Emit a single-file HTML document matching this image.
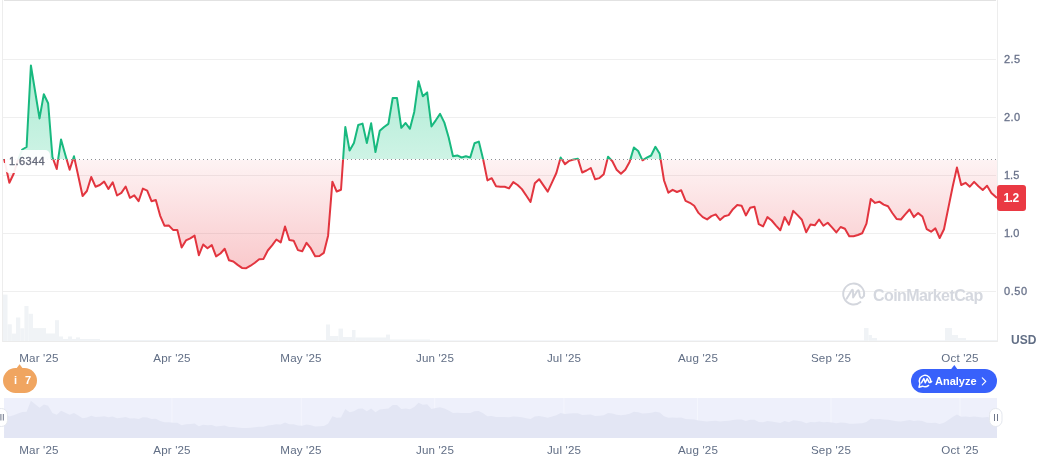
<!DOCTYPE html>
<html><head><meta charset="utf-8"><style>
html,body{margin:0;padding:0;background:#fff;}
body{width:1044px;height:474px;position:relative;overflow:hidden;font-family:"Liberation Sans",sans-serif;}
svg{position:absolute;left:0;top:0;}
div{will-change:transform;}
.xl{position:absolute;width:60px;text-align:center;font-size:11.6px;letter-spacing:0.15px;line-height:14px;color:#616e85;white-space:nowrap;}
.yl{position:absolute;left:1003.6px;font-size:11px;letter-spacing:0.5px;line-height:16px;color:#69728a;-webkit-text-stroke:0.3px #69728a;}
.usd{position:absolute;left:1010.5px;top:331.5px;font-size:12px;line-height:16px;font-weight:bold;color:#616e85;}
.tag{position:absolute;left:997px;top:185px;width:29px;height:26px;border-radius:3px;background:#ea3943;color:#fff;font-weight:bold;font-size:12px;line-height:26px;text-align:center;letter-spacing:-0.5px;text-indent:-1px;}
.base{position:absolute;left:4px;top:150px;width:46px;height:22.5px;border-radius:5px;background:rgba(255,255,255,0.92);}
.baset{position:absolute;left:9.4px;top:153px;font-size:11px;letter-spacing:0.4px;line-height:16px;color:#666b7b;-webkit-text-stroke:0.35px #666b7b;}
.wm{position:absolute;left:872.8px;top:287px;font-size:16px;line-height:18px;font-weight:bold;color:#d5d8df;letter-spacing:-0.6px;}
.an{position:absolute;left:911px;top:369px;width:86px;height:24px;border-radius:12px;background:#3861fb;}
.ant{position:absolute;left:935px;top:369px;font-size:11px;line-height:24px;font-weight:bold;color:#fff;}
.bd{position:absolute;left:3px;top:368px;width:34px;height:25px;border-radius:12.5px;background:#f0a560;}
.bdt{position:absolute;top:368px;font-size:11px;line-height:25px;font-weight:bold;color:#fff;}
</style></head><body>
<svg width="1044" height="474" viewBox="0 0 1044 474">
<defs>
<linearGradient id="gg" gradientUnits="userSpaceOnUse" x1="0" y1="0" x2="0" y2="159.5">
<stop offset="0" stop-color="#16c784" stop-opacity="0.46"/><stop offset="1" stop-color="#16c784" stop-opacity="0.21"/></linearGradient>
<linearGradient id="rg" gradientUnits="userSpaceOnUse" x1="0" y1="159.5" x2="0" y2="342">
<stop offset="0" stop-color="#ea3943" stop-opacity="0.06"/><stop offset="1" stop-color="#ea3943" stop-opacity="0.42"/></linearGradient>
<clipPath id="up"><rect x="0" y="0" width="1000" height="159.5"/></clipPath>
<clipPath id="dn"><rect x="0" y="159.5" width="1000" height="200"/></clipPath>
<clipPath id="upf"><rect x="0" y="0" width="1000" height="159"/></clipPath>
<clipPath id="dnf"><rect x="0" y="160" width="1000" height="200"/></clipPath>
</defs>
<rect x="2" y="0" width="1" height="342" fill="#ededed"/><rect x="997" y="0" width="1" height="342" fill="#ededed"/>
<rect x="3" y="341" width="994" height="1" fill="#ebebeb"/>
<rect x="4" y="0" width="992" height="1" fill="#e2e2e2"/>
<rect x="3" y="59" width="993" height="1" fill="#efefef"/><rect x="3" y="117" width="993" height="1" fill="#efefef"/><rect x="3" y="175" width="993" height="1" fill="#efefef"/><rect x="3" y="233" width="993" height="1" fill="#efefef"/><rect x="3" y="291" width="993" height="1" fill="#efefef"/>
<g fill="#f0f3f6"><rect x="3" y="294.6" width="4.5" height="46.39999999999998"/><rect x="7.5" y="324.3" width="4.300000000000001" height="16.69999999999999"/><rect x="11.8" y="333.6" width="4.199999999999999" height="7.399999999999977"/><rect x="16" y="317.5" width="4.300000000000001" height="23.5"/><rect x="20.3" y="328.3" width="4.099999999999998" height="12.699999999999989"/><rect x="24.4" y="306" width="4.100000000000001" height="35"/><rect x="28.5" y="313.8" width="4.5" height="27.19999999999999"/><rect x="33" y="328.1" width="13" height="12.899999999999977"/><rect x="46" y="333.5" width="9" height="7.5"/><rect x="55" y="320.2" width="4" height="20.80000000000001"/><rect x="59" y="336.5" width="4" height="4.5"/><rect x="63" y="339" width="5" height="2"/><rect x="68" y="336.5" width="4" height="4.5"/><rect x="72" y="339" width="4" height="2"/><rect x="76" y="337.4" width="4" height="3.6000000000000227"/><rect x="80" y="339" width="20" height="2"/><rect x="100" y="340" width="226" height="1"/><rect x="326" y="324.5" width="4" height="16.5"/><rect x="330" y="336" width="8.5" height="5"/><rect x="338.5" y="328.6" width="4.5" height="12.399999999999977"/><rect x="343" y="337" width="9" height="4"/><rect x="352" y="330" width="3.5" height="11"/><rect x="355.5" y="337.5" width="30.5" height="3.5"/><rect x="386" y="334.6" width="4" height="6.399999999999977"/><rect x="390" y="339.5" width="40" height="1.5"/><rect x="430" y="340.3" width="434" height="0.6999999999999886"/><rect x="864" y="328" width="4.5" height="13"/><rect x="868.5" y="335" width="3.5" height="6"/><rect x="872" y="338" width="5" height="3"/><rect x="877" y="340.3" width="68" height="0.6999999999999886"/><rect x="945" y="328" width="7" height="13"/><rect x="952" y="335" width="6" height="6"/><rect x="958" y="338" width="8" height="3"/><rect x="966" y="340" width="31" height="1"/></g>
<g fill="none" stroke="#d3d6dd" stroke-width="1.9" stroke-linecap="round" stroke-linejoin="round">
<path d="M864.04,295.8 A10.5,10.5 0 1 0 860.45,302.04"/>
<path d="M846.6,298.8 L851.8,290.2 Q852.9,289 853,291 L853.1,297.6 L857.6,290.6 Q858.8,289.4 859,291.5 L859.8,296 Q860.5,298.5 862.5,297.6 Q864.5,296.3 864.2,293.5"/>
</g>
<path d="M4.3,159.7 L9.37,182.8 L13.67,173.7 L17.98,160 L22.29,149.5 L26.6,147 L30.9,65.5 L35.21,92 L39.52,118.4 L43.82,94.2 L48.13,103.2 L52.44,157 L56.74,169 L61.05,139.4 L65.36,155 L69.67,169.8 L73.97,156.3 L78.28,176 L82.59,196 L86.89,191 L91.2,177 L95.51,186.7 L99.81,185 L104.12,181.6 L108.43,188.9 L112.74,182.3 L117.04,195.5 L121.35,192.9 L125.66,186.5 L129.96,197.8 L134.27,195.3 L138.58,201.2 L142.88,188.6 L147.19,190.6 L151.5,201.2 L155.81,200 L160.11,215.6 L164.42,225.7 L168.73,225.4 L173.03,229.9 L177.34,229.9 L181.65,247.5 L185.95,240.4 L190.26,238.3 L194.57,235.6 L198.88,255.2 L203.18,244.5 L207.49,248.3 L211.8,245.1 L216.1,256.4 L220.41,253.5 L224.72,248.8 L229.02,260.3 L233.33,261.5 L237.64,264.9 L241.95,267.9 L246.25,268.2 L250.56,265.7 L254.87,262.7 L259.17,259.3 L263.48,258.9 L267.79,250.5 L272.09,245.4 L276.4,239.5 L280.71,242.4 L285.02,226.5 L289.32,240 L293.63,240.7 L297.94,250.1 L302.24,251.2 L306.55,242.8 L310.86,248.4 L315.16,256.3 L319.47,256 L323.78,252.9 L328.09,235.7 L332.39,181.7 L336.7,191.5 L341.01,189.8 L345.31,127 L349.62,150.6 L353.93,143 L358.23,125 L362.54,123.6 L366.85,143 L371.16,123.3 L375.46,152 L379.77,130.8 L384.08,127 L388.38,123.9 L392.69,98 L397.0,98 L401.3,127.8 L405.61,123 L409.92,128.8 L414.23,112 L418.53,81.2 L422.84,96.3 L427.15,92.4 L431.45,126.4 L435.76,120.3 L440.07,113.9 L444.37,122.6 L448.68,137.5 L452.99,156.3 L457.3,155.4 L461.6,157.5 L465.91,156.3 L470.22,157.5 L474.52,143.3 L478.83,141.6 L483.14,159.2 L487.44,180.4 L491.75,178.2 L496.06,186.2 L500.37,186.7 L504.67,186.7 L508.98,188.4 L513.29,182.1 L517.59,185 L521.9,189.1 L526.21,195.5 L530.51,202 L534.82,183.2 L539.13,179.2 L543.43,185.3 L547.74,191.6 L552.05,182.3 L556.36,173 L560.66,157.5 L564.97,164.1 L569.28,160.7 L573.58,159.5 L577.89,158.7 L582.2,172.5 L586.5,170.5 L590.81,168 L595.12,179.3 L599.43,178.1 L603.73,174.2 L608.04,156.7 L612.35,161.2 L616.65,169.7 L620.96,173.8 L625.27,169.8 L629.58,162 L633.88,147.5 L638.19,151 L642.5,160.3 L646.8,157.7 L651.11,155.5 L655.42,146.8 L659.72,153.8 L664.03,180.5 L668.34,192.7 L672.64,189.8 L676.95,192 L681.26,190.3 L685.57,200.8 L689.87,202.8 L694.18,205.8 L698.49,212.9 L702.79,217.1 L707.1,219.4 L711.41,216.1 L715.72,214.4 L720.02,220 L724.33,216.3 L728.64,215.1 L732.94,209.2 L737.25,205 L741.56,205.7 L745.86,215.4 L750.17,207.8 L754.48,206.7 L758.78,224.2 L763.09,226.4 L767.4,217.1 L771.71,220.5 L776.01,225.6 L780.32,230.3 L784.63,217.1 L788.93,224.7 L793.24,210.9 L797.55,215.1 L801.86,219.7 L806.16,232.3 L810.47,224.5 L814.78,225.3 L819.08,219.5 L823.39,225.7 L827.7,222.7 L832.0,227.4 L836.31,232.4 L840.62,227 L844.93,228.7 L849.23,236.3 L853.54,236.3 L857.85,235 L862.15,233.3 L866.46,223.7 L870.77,199 L875.07,202.9 L879.38,201.7 L883.69,204.6 L888.0,206.3 L892.3,213 L896.61,218.9 L900.92,219.5 L905.22,214.3 L909.53,209.5 L913.84,217.1 L918.14,213.1 L922.45,216.5 L926.76,229.2 L931.07,231.7 L935.37,228.4 L939.68,238 L943.99,229.2 L948.29,208.1 L952.6,187 L956.91,167.6 L961.21,185 L965.52,182.8 L969.83,186.7 L974.13,181.9 L978.44,186.2 L982.75,190 L987.06,185.7 L991.36,192.9 L997,198 L997,159.5 L4.3,159.5 Z" fill="url(#gg)" clip-path="url(#upf)"/>
<path d="M4.3,159.7 L9.37,182.8 L13.67,173.7 L17.98,160 L22.29,149.5 L26.6,147 L30.9,65.5 L35.21,92 L39.52,118.4 L43.82,94.2 L48.13,103.2 L52.44,157 L56.74,169 L61.05,139.4 L65.36,155 L69.67,169.8 L73.97,156.3 L78.28,176 L82.59,196 L86.89,191 L91.2,177 L95.51,186.7 L99.81,185 L104.12,181.6 L108.43,188.9 L112.74,182.3 L117.04,195.5 L121.35,192.9 L125.66,186.5 L129.96,197.8 L134.27,195.3 L138.58,201.2 L142.88,188.6 L147.19,190.6 L151.5,201.2 L155.81,200 L160.11,215.6 L164.42,225.7 L168.73,225.4 L173.03,229.9 L177.34,229.9 L181.65,247.5 L185.95,240.4 L190.26,238.3 L194.57,235.6 L198.88,255.2 L203.18,244.5 L207.49,248.3 L211.8,245.1 L216.1,256.4 L220.41,253.5 L224.72,248.8 L229.02,260.3 L233.33,261.5 L237.64,264.9 L241.95,267.9 L246.25,268.2 L250.56,265.7 L254.87,262.7 L259.17,259.3 L263.48,258.9 L267.79,250.5 L272.09,245.4 L276.4,239.5 L280.71,242.4 L285.02,226.5 L289.32,240 L293.63,240.7 L297.94,250.1 L302.24,251.2 L306.55,242.8 L310.86,248.4 L315.16,256.3 L319.47,256 L323.78,252.9 L328.09,235.7 L332.39,181.7 L336.7,191.5 L341.01,189.8 L345.31,127 L349.62,150.6 L353.93,143 L358.23,125 L362.54,123.6 L366.85,143 L371.16,123.3 L375.46,152 L379.77,130.8 L384.08,127 L388.38,123.9 L392.69,98 L397.0,98 L401.3,127.8 L405.61,123 L409.92,128.8 L414.23,112 L418.53,81.2 L422.84,96.3 L427.15,92.4 L431.45,126.4 L435.76,120.3 L440.07,113.9 L444.37,122.6 L448.68,137.5 L452.99,156.3 L457.3,155.4 L461.6,157.5 L465.91,156.3 L470.22,157.5 L474.52,143.3 L478.83,141.6 L483.14,159.2 L487.44,180.4 L491.75,178.2 L496.06,186.2 L500.37,186.7 L504.67,186.7 L508.98,188.4 L513.29,182.1 L517.59,185 L521.9,189.1 L526.21,195.5 L530.51,202 L534.82,183.2 L539.13,179.2 L543.43,185.3 L547.74,191.6 L552.05,182.3 L556.36,173 L560.66,157.5 L564.97,164.1 L569.28,160.7 L573.58,159.5 L577.89,158.7 L582.2,172.5 L586.5,170.5 L590.81,168 L595.12,179.3 L599.43,178.1 L603.73,174.2 L608.04,156.7 L612.35,161.2 L616.65,169.7 L620.96,173.8 L625.27,169.8 L629.58,162 L633.88,147.5 L638.19,151 L642.5,160.3 L646.8,157.7 L651.11,155.5 L655.42,146.8 L659.72,153.8 L664.03,180.5 L668.34,192.7 L672.64,189.8 L676.95,192 L681.26,190.3 L685.57,200.8 L689.87,202.8 L694.18,205.8 L698.49,212.9 L702.79,217.1 L707.1,219.4 L711.41,216.1 L715.72,214.4 L720.02,220 L724.33,216.3 L728.64,215.1 L732.94,209.2 L737.25,205 L741.56,205.7 L745.86,215.4 L750.17,207.8 L754.48,206.7 L758.78,224.2 L763.09,226.4 L767.4,217.1 L771.71,220.5 L776.01,225.6 L780.32,230.3 L784.63,217.1 L788.93,224.7 L793.24,210.9 L797.55,215.1 L801.86,219.7 L806.16,232.3 L810.47,224.5 L814.78,225.3 L819.08,219.5 L823.39,225.7 L827.7,222.7 L832.0,227.4 L836.31,232.4 L840.62,227 L844.93,228.7 L849.23,236.3 L853.54,236.3 L857.85,235 L862.15,233.3 L866.46,223.7 L870.77,199 L875.07,202.9 L879.38,201.7 L883.69,204.6 L888.0,206.3 L892.3,213 L896.61,218.9 L900.92,219.5 L905.22,214.3 L909.53,209.5 L913.84,217.1 L918.14,213.1 L922.45,216.5 L926.76,229.2 L931.07,231.7 L935.37,228.4 L939.68,238 L943.99,229.2 L948.29,208.1 L952.6,187 L956.91,167.6 L961.21,185 L965.52,182.8 L969.83,186.7 L974.13,181.9 L978.44,186.2 L982.75,190 L987.06,185.7 L991.36,192.9 L997,198 L997,159.5 L4.3,159.5 Z" fill="url(#rg)" clip-path="url(#dnf)"/>
<line x1="3" y1="159.5" x2="997" y2="159.5" stroke="#8e8e93" stroke-width="1" stroke-dasharray="1 3" shape-rendering="crispEdges"/>
<path d="M4.3,159.7 L9.37,182.8 L13.67,173.7 L17.98,160 L22.29,149.5 L26.6,147 L30.9,65.5 L35.21,92 L39.52,118.4 L43.82,94.2 L48.13,103.2 L52.44,157 L56.74,169 L61.05,139.4 L65.36,155 L69.67,169.8 L73.97,156.3 L78.28,176 L82.59,196 L86.89,191 L91.2,177 L95.51,186.7 L99.81,185 L104.12,181.6 L108.43,188.9 L112.74,182.3 L117.04,195.5 L121.35,192.9 L125.66,186.5 L129.96,197.8 L134.27,195.3 L138.58,201.2 L142.88,188.6 L147.19,190.6 L151.5,201.2 L155.81,200 L160.11,215.6 L164.42,225.7 L168.73,225.4 L173.03,229.9 L177.34,229.9 L181.65,247.5 L185.95,240.4 L190.26,238.3 L194.57,235.6 L198.88,255.2 L203.18,244.5 L207.49,248.3 L211.8,245.1 L216.1,256.4 L220.41,253.5 L224.72,248.8 L229.02,260.3 L233.33,261.5 L237.64,264.9 L241.95,267.9 L246.25,268.2 L250.56,265.7 L254.87,262.7 L259.17,259.3 L263.48,258.9 L267.79,250.5 L272.09,245.4 L276.4,239.5 L280.71,242.4 L285.02,226.5 L289.32,240 L293.63,240.7 L297.94,250.1 L302.24,251.2 L306.55,242.8 L310.86,248.4 L315.16,256.3 L319.47,256 L323.78,252.9 L328.09,235.7 L332.39,181.7 L336.7,191.5 L341.01,189.8 L345.31,127 L349.62,150.6 L353.93,143 L358.23,125 L362.54,123.6 L366.85,143 L371.16,123.3 L375.46,152 L379.77,130.8 L384.08,127 L388.38,123.9 L392.69,98 L397.0,98 L401.3,127.8 L405.61,123 L409.92,128.8 L414.23,112 L418.53,81.2 L422.84,96.3 L427.15,92.4 L431.45,126.4 L435.76,120.3 L440.07,113.9 L444.37,122.6 L448.68,137.5 L452.99,156.3 L457.3,155.4 L461.6,157.5 L465.91,156.3 L470.22,157.5 L474.52,143.3 L478.83,141.6 L483.14,159.2 L487.44,180.4 L491.75,178.2 L496.06,186.2 L500.37,186.7 L504.67,186.7 L508.98,188.4 L513.29,182.1 L517.59,185 L521.9,189.1 L526.21,195.5 L530.51,202 L534.82,183.2 L539.13,179.2 L543.43,185.3 L547.74,191.6 L552.05,182.3 L556.36,173 L560.66,157.5 L564.97,164.1 L569.28,160.7 L573.58,159.5 L577.89,158.7 L582.2,172.5 L586.5,170.5 L590.81,168 L595.12,179.3 L599.43,178.1 L603.73,174.2 L608.04,156.7 L612.35,161.2 L616.65,169.7 L620.96,173.8 L625.27,169.8 L629.58,162 L633.88,147.5 L638.19,151 L642.5,160.3 L646.8,157.7 L651.11,155.5 L655.42,146.8 L659.72,153.8 L664.03,180.5 L668.34,192.7 L672.64,189.8 L676.95,192 L681.26,190.3 L685.57,200.8 L689.87,202.8 L694.18,205.8 L698.49,212.9 L702.79,217.1 L707.1,219.4 L711.41,216.1 L715.72,214.4 L720.02,220 L724.33,216.3 L728.64,215.1 L732.94,209.2 L737.25,205 L741.56,205.7 L745.86,215.4 L750.17,207.8 L754.48,206.7 L758.78,224.2 L763.09,226.4 L767.4,217.1 L771.71,220.5 L776.01,225.6 L780.32,230.3 L784.63,217.1 L788.93,224.7 L793.24,210.9 L797.55,215.1 L801.86,219.7 L806.16,232.3 L810.47,224.5 L814.78,225.3 L819.08,219.5 L823.39,225.7 L827.7,222.7 L832.0,227.4 L836.31,232.4 L840.62,227 L844.93,228.7 L849.23,236.3 L853.54,236.3 L857.85,235 L862.15,233.3 L866.46,223.7 L870.77,199 L875.07,202.9 L879.38,201.7 L883.69,204.6 L888.0,206.3 L892.3,213 L896.61,218.9 L900.92,219.5 L905.22,214.3 L909.53,209.5 L913.84,217.1 L918.14,213.1 L922.45,216.5 L926.76,229.2 L931.07,231.7 L935.37,228.4 L939.68,238 L943.99,229.2 L948.29,208.1 L952.6,187 L956.91,167.6 L961.21,185 L965.52,182.8 L969.83,186.7 L974.13,181.9 L978.44,186.2 L982.75,190 L987.06,185.7 L991.36,192.9 L997,198" fill="none" stroke="#18b97f" stroke-width="2" stroke-linejoin="round" clip-path="url(#up)"/>
<path d="M4.3,159.7 L9.37,182.8 L13.67,173.7 L17.98,160 L22.29,149.5 L26.6,147 L30.9,65.5 L35.21,92 L39.52,118.4 L43.82,94.2 L48.13,103.2 L52.44,157 L56.74,169 L61.05,139.4 L65.36,155 L69.67,169.8 L73.97,156.3 L78.28,176 L82.59,196 L86.89,191 L91.2,177 L95.51,186.7 L99.81,185 L104.12,181.6 L108.43,188.9 L112.74,182.3 L117.04,195.5 L121.35,192.9 L125.66,186.5 L129.96,197.8 L134.27,195.3 L138.58,201.2 L142.88,188.6 L147.19,190.6 L151.5,201.2 L155.81,200 L160.11,215.6 L164.42,225.7 L168.73,225.4 L173.03,229.9 L177.34,229.9 L181.65,247.5 L185.95,240.4 L190.26,238.3 L194.57,235.6 L198.88,255.2 L203.18,244.5 L207.49,248.3 L211.8,245.1 L216.1,256.4 L220.41,253.5 L224.72,248.8 L229.02,260.3 L233.33,261.5 L237.64,264.9 L241.95,267.9 L246.25,268.2 L250.56,265.7 L254.87,262.7 L259.17,259.3 L263.48,258.9 L267.79,250.5 L272.09,245.4 L276.4,239.5 L280.71,242.4 L285.02,226.5 L289.32,240 L293.63,240.7 L297.94,250.1 L302.24,251.2 L306.55,242.8 L310.86,248.4 L315.16,256.3 L319.47,256 L323.78,252.9 L328.09,235.7 L332.39,181.7 L336.7,191.5 L341.01,189.8 L345.31,127 L349.62,150.6 L353.93,143 L358.23,125 L362.54,123.6 L366.85,143 L371.16,123.3 L375.46,152 L379.77,130.8 L384.08,127 L388.38,123.9 L392.69,98 L397.0,98 L401.3,127.8 L405.61,123 L409.92,128.8 L414.23,112 L418.53,81.2 L422.84,96.3 L427.15,92.4 L431.45,126.4 L435.76,120.3 L440.07,113.9 L444.37,122.6 L448.68,137.5 L452.99,156.3 L457.3,155.4 L461.6,157.5 L465.91,156.3 L470.22,157.5 L474.52,143.3 L478.83,141.6 L483.14,159.2 L487.44,180.4 L491.75,178.2 L496.06,186.2 L500.37,186.7 L504.67,186.7 L508.98,188.4 L513.29,182.1 L517.59,185 L521.9,189.1 L526.21,195.5 L530.51,202 L534.82,183.2 L539.13,179.2 L543.43,185.3 L547.74,191.6 L552.05,182.3 L556.36,173 L560.66,157.5 L564.97,164.1 L569.28,160.7 L573.58,159.5 L577.89,158.7 L582.2,172.5 L586.5,170.5 L590.81,168 L595.12,179.3 L599.43,178.1 L603.73,174.2 L608.04,156.7 L612.35,161.2 L616.65,169.7 L620.96,173.8 L625.27,169.8 L629.58,162 L633.88,147.5 L638.19,151 L642.5,160.3 L646.8,157.7 L651.11,155.5 L655.42,146.8 L659.72,153.8 L664.03,180.5 L668.34,192.7 L672.64,189.8 L676.95,192 L681.26,190.3 L685.57,200.8 L689.87,202.8 L694.18,205.8 L698.49,212.9 L702.79,217.1 L707.1,219.4 L711.41,216.1 L715.72,214.4 L720.02,220 L724.33,216.3 L728.64,215.1 L732.94,209.2 L737.25,205 L741.56,205.7 L745.86,215.4 L750.17,207.8 L754.48,206.7 L758.78,224.2 L763.09,226.4 L767.4,217.1 L771.71,220.5 L776.01,225.6 L780.32,230.3 L784.63,217.1 L788.93,224.7 L793.24,210.9 L797.55,215.1 L801.86,219.7 L806.16,232.3 L810.47,224.5 L814.78,225.3 L819.08,219.5 L823.39,225.7 L827.7,222.7 L832.0,227.4 L836.31,232.4 L840.62,227 L844.93,228.7 L849.23,236.3 L853.54,236.3 L857.85,235 L862.15,233.3 L866.46,223.7 L870.77,199 L875.07,202.9 L879.38,201.7 L883.69,204.6 L888.0,206.3 L892.3,213 L896.61,218.9 L900.92,219.5 L905.22,214.3 L909.53,209.5 L913.84,217.1 L918.14,213.1 L922.45,216.5 L926.76,229.2 L931.07,231.7 L935.37,228.4 L939.68,238 L943.99,229.2 L948.29,208.1 L952.6,187 L956.91,167.6 L961.21,185 L965.52,182.8 L969.83,186.7 L974.13,181.9 L978.44,186.2 L982.75,190 L987.06,185.7 L991.36,192.9 L997,198" fill="none" stroke="#e2353f" stroke-width="2" stroke-linejoin="round" clip-path="url(#dn)"/>
<!-- navigator -->
<rect x="4" y="398" width="993" height="40" fill="#eef0fb"/>
<rect x="171.4" y="398" width="1" height="40" fill="#f4f6fd"/><rect x="300.8" y="398" width="1" height="40" fill="#f4f6fd"/><rect x="434.2" y="398" width="1" height="40" fill="#f4f6fd"/><rect x="563.4" y="398" width="1" height="40" fill="#f4f6fd"/><rect x="697.0" y="398" width="1" height="40" fill="#f4f6fd"/><rect x="830.5" y="398" width="1" height="40" fill="#f4f6fd"/><rect x="959.5" y="398" width="1" height="40" fill="#f4f6fd"/>
<path d="M4,438 L4.3,413.40 L9.37,416.50 L13.67,415.28 L17.98,413.44 L22.29,412.02 L26.6,411.69 L30.9,400.72 L35.21,404.28 L39.52,407.84 L43.82,404.58 L48.13,405.79 L52.44,413.03 L56.74,414.65 L61.05,410.66 L65.36,412.76 L69.67,414.76 L73.97,412.94 L78.28,415.59 L82.59,418.28 L86.89,417.61 L91.2,415.72 L95.51,417.03 L99.81,416.80 L104.12,416.34 L108.43,417.33 L112.74,416.44 L117.04,418.21 L121.35,417.86 L125.66,417.00 L129.96,418.52 L134.27,418.19 L138.58,418.98 L142.88,417.29 L147.19,417.55 L151.5,418.98 L155.81,418.82 L160.11,420.92 L164.42,422.28 L168.73,422.24 L173.03,422.84 L177.34,422.84 L181.65,425.21 L185.95,424.26 L190.26,423.98 L194.57,423.61 L198.88,426.25 L203.18,424.81 L207.49,425.32 L211.8,424.89 L216.1,426.41 L220.41,426.02 L224.72,425.39 L229.02,426.94 L233.33,427.10 L237.64,427.56 L241.95,427.96 L246.25,428.00 L250.56,427.66 L254.87,427.26 L259.17,426.80 L263.48,426.75 L267.79,425.62 L272.09,424.93 L276.4,424.14 L280.71,424.53 L285.02,422.39 L289.32,424.20 L293.63,424.30 L297.94,425.56 L302.24,425.71 L306.55,424.58 L310.86,425.33 L315.16,426.40 L319.47,426.36 L323.78,425.94 L328.09,423.63 L332.39,416.36 L336.7,417.68 L341.01,417.45 L345.31,408.99 L349.62,412.17 L353.93,411.15 L358.23,408.72 L362.54,408.54 L366.85,411.15 L371.16,408.50 L375.46,412.36 L379.77,409.51 L384.08,408.99 L388.38,408.58 L392.69,405.09 L397.0,405.09 L401.3,409.10 L405.61,408.46 L409.92,409.24 L414.23,406.98 L418.53,402.83 L422.84,404.86 L427.15,404.34 L431.45,408.91 L435.76,408.09 L440.07,407.23 L444.37,408.40 L448.68,410.41 L452.99,412.94 L457.3,412.82 L461.6,413.10 L465.91,412.94 L470.22,413.10 L474.52,411.19 L478.83,410.96 L483.14,413.33 L487.44,416.18 L491.75,415.89 L496.06,416.96 L500.37,417.03 L504.67,417.03 L508.98,417.26 L513.29,416.41 L517.59,416.80 L521.9,417.35 L526.21,418.21 L530.51,419.09 L534.82,416.56 L539.13,416.02 L543.43,416.84 L547.74,417.69 L552.05,416.44 L556.36,415.19 L560.66,413.10 L564.97,413.99 L569.28,413.53 L573.58,413.37 L577.89,413.26 L582.2,415.12 L586.5,414.85 L590.81,414.51 L595.12,416.03 L599.43,415.87 L603.73,415.35 L608.04,412.99 L612.35,413.60 L616.65,414.74 L620.96,415.29 L625.27,414.76 L629.58,413.71 L633.88,411.75 L638.19,412.22 L642.5,413.48 L646.8,413.13 L651.11,412.83 L655.42,411.66 L659.72,412.60 L664.03,416.20 L668.34,417.84 L672.64,417.45 L676.95,417.74 L681.26,417.51 L685.57,418.93 L689.87,419.20 L694.18,419.60 L698.49,420.56 L702.79,421.12 L707.1,421.43 L711.41,420.99 L715.72,420.76 L720.02,421.51 L724.33,421.01 L728.64,420.85 L732.94,420.06 L737.25,419.49 L741.56,419.59 L745.86,420.89 L750.17,419.87 L754.48,419.72 L758.78,422.08 L763.09,422.37 L767.4,421.12 L771.71,421.58 L776.01,422.27 L780.32,422.90 L784.63,421.12 L788.93,422.14 L793.24,420.29 L797.55,420.85 L801.86,421.47 L806.16,423.17 L810.47,422.12 L814.78,422.23 L819.08,421.44 L823.39,422.28 L827.7,421.88 L832.0,422.51 L836.31,423.18 L840.62,422.45 L844.93,422.68 L849.23,423.71 L853.54,423.71 L857.85,423.53 L862.15,423.30 L866.46,422.01 L870.77,418.69 L875.07,419.21 L879.38,419.05 L883.69,419.44 L888.0,419.67 L892.3,420.57 L896.61,421.36 L900.92,421.44 L905.22,420.74 L909.53,420.10 L913.84,421.12 L918.14,420.58 L922.45,421.04 L926.76,422.75 L931.07,423.09 L935.37,422.64 L939.68,423.93 L943.99,422.75 L948.29,419.91 L952.6,417.07 L956.91,414.46 L961.21,416.80 L965.52,416.50 L969.83,417.03 L974.13,416.38 L978.44,416.96 L982.75,417.47 L987.06,416.90 L991.36,417.86 L997,418.55 L997,438 Z" fill="#e3e6f4"/>
<!-- handles -->
<g>
<rect x="-5" y="408.5" width="12.5" height="18" rx="6" fill="#fff" stroke="#e4e7ee" stroke-width="1"/>
<rect x="0.4" y="414" width="1" height="6.5" fill="#6f778a"/><rect x="2.8" y="414" width="1" height="6.5" fill="#6f778a"/>
<rect x="989.5" y="408.5" width="12.5" height="18" rx="6" fill="#fff" stroke="#e4e7ee" stroke-width="1"/>
<rect x="994" y="414" width="1" height="7" fill="#6f778a"/><rect x="997" y="414" width="1" height="7" fill="#6f778a"/>
</g>
<!-- pointers -->
<path d="M16,369 L19.6,364.3 L23.2,369 Z" fill="#f0a560"/>
<path d="M950.5,370 L954.3,365 L958,370 Z" fill="#3861fb"/>
</svg>
<div class="xl" style="left:8.600000000000001px;top:351px">Mar '25</div><div class="xl" style="left:141.9px;top:351px">Apr '25</div><div class="xl" style="left:271.3px;top:351px">May '25</div><div class="xl" style="left:404.7px;top:351px">Jun '25</div><div class="xl" style="left:533.9px;top:351px">Jul '25</div><div class="xl" style="left:667.5px;top:351px">Aug '25</div><div class="xl" style="left:801px;top:351px">Sep '25</div><div class="xl" style="left:930px;top:351px">Oct '25</div><div class="xl" style="left:8.600000000000001px;top:443px">Mar '25</div><div class="xl" style="left:141.9px;top:443px">Apr '25</div><div class="xl" style="left:271.3px;top:443px">May '25</div><div class="xl" style="left:404.7px;top:443px">Jun '25</div><div class="xl" style="left:533.9px;top:443px">Jul '25</div><div class="xl" style="left:667.5px;top:443px">Aug '25</div><div class="xl" style="left:801px;top:443px">Sep '25</div><div class="xl" style="left:930px;top:443px">Oct '25</div><div class="yl" style="top:50.6px;letter-spacing:0.45px">2.5</div><div class="yl" style="top:108.6px;letter-spacing:0.45px">2.0</div><div class="yl" style="top:166.6px;letter-spacing:0.0px">1.5</div><div class="yl" style="top:224.6px;letter-spacing:0.0px">1.0</div><div class="yl" style="top:282.6px;letter-spacing:0.55px">0.50</div>
<div class="usd">USD</div>
<div class="tag">1.2</div>
<div class="base"></div><div style="position:absolute;left:4.2px;top:158.5px;width:1.2px;height:3.6px;background:#e2353f"></div><div class="baset">1.6344</div>
<div class="wm">CoinMarketCap</div>
<div class="an"></div><div class="ant">Analyze</div>
<svg width="1044" height="474" viewBox="0 0 1044 474" style="pointer-events:none">
<g fill="none" stroke="#fff" stroke-width="1.3" stroke-linecap="round" stroke-linejoin="round">
<path d="M982.3,377.8 L985.8,381.3 L982.3,384.8" stroke-width="1.2"/>
<path d="M930.6,381.8 A5.7,5.7 0 1 0 919.9,383.6 L919,387.2 L922.6,386.2 A5.7,5.7 0 0 0 928.6,385.4" stroke-width="1.45"/>
<path d="M921.4,382.8 L923.8,378.6 L925.3,382.8 L927.2,378.6 L929,382.2 Q930,383.2 931.6,381.4" stroke-width="1.5"/>
</g>
</svg>
<div class="bd"></div><div class="bdt" style="left:13.5px">i</div><div class="bdt" style="left:25px">7</div>
</body></html>
